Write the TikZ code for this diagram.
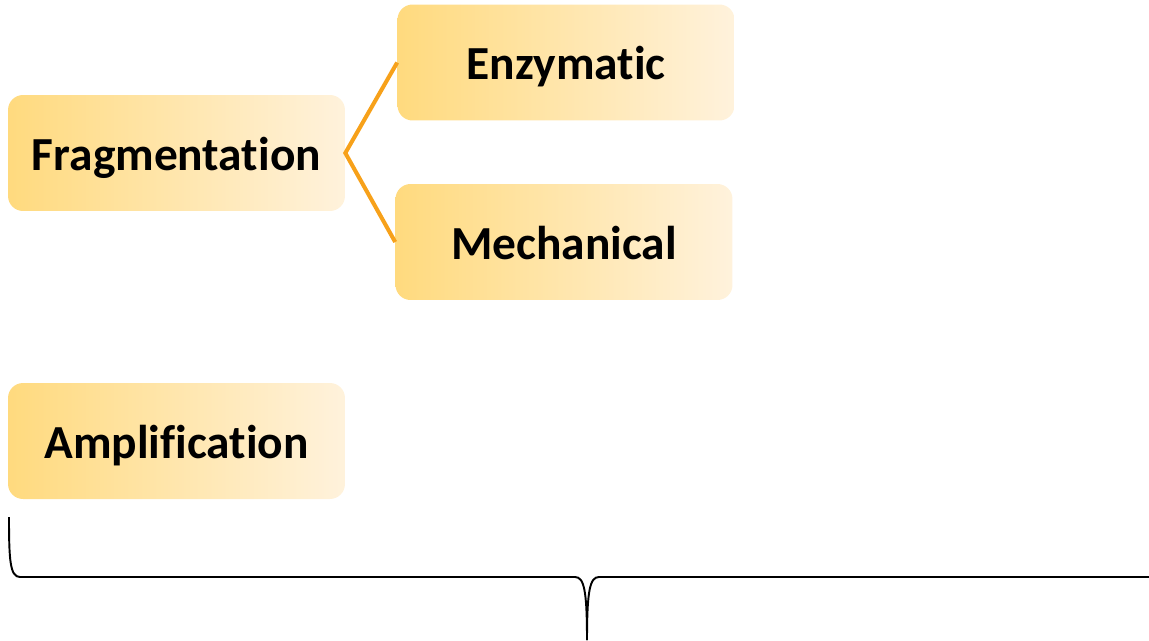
\documentclass[tikz,border=0pt]{standalone}
\usepackage{fontspec}
\setmainfont{Carlito}[Ligatures={NoCommon}]
\usetikzlibrary{positioning}
\definecolor{jauneA}{HTML}{FFDA7E}
\definecolor{jauneB}{HTML}{FFF2DC}
\definecolor{orangeT}{HTML}{F7A11A}

\begin{document}
\begin{tikzpicture}[x=0.02cm, y=-0.02cm,
    boite/.style={rounded corners=0.3cm, left color=jauneA, right color=jauneB,
        minimum width=6.74cm, minimum height=2.32cm, inner sep=0pt,
        text height=19.4pt, text depth=0pt,
        font=\fontsize{27}{30}\selectfont\bfseries},
    lien/.style={orangeT, line width=2.3pt},
    accolade/.style={black, line width=1.1pt}]
    % Cadre
    \useasboundingbox (0,0) rectangle (1149,640);
    \clip (0,0) rectangle (1149,640);

    % Boites
    \node[boite] (frag) at (176.5,153) {Fragmentation};
    \node[boite] (enzy) at (566,62.5) {Enzymatic};
    \node[boite] (mech) at (564,242) {Mechanical};
    \node[boite] (ampl) at (176.5,441) {Amplification};

    % Liens orange
    \draw[lien] (enzy.west) -- (frag.east) -- (mech.west);

    % Accolade du bas
    \coordinate (pointe) at (587,640);
    \draw[accolade] (9,517) .. controls (9,560) and (10,577) .. (20,577)
        -- (575,577) .. controls (584,577) and (587,590) .. (pointe);
    \draw[accolade] (pointe) .. controls (587,590) and (590,577) .. (599,577)
        -- (1154,577) .. controls (1164,577) and (1165,560) .. (1165,517);
\end{tikzpicture}
\end{document}
